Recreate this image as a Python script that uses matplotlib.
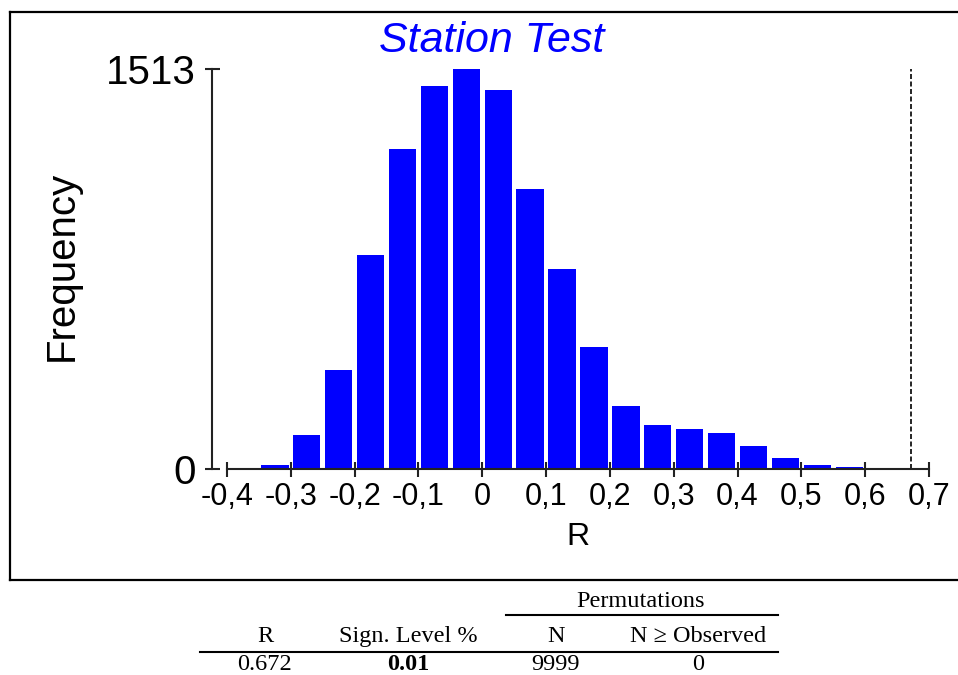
import matplotlib.pyplot as plt
from matplotlib.lines import Line2D
from matplotlib.ticker import FuncFormatter

# histogram of permuted R values (bin centres, width 0.05)
r_bins = [-0.325, -0.275, -0.225, -0.175, -0.125, -0.075, -0.025, 0.025, 0.075,
          0.125, 0.175, 0.225, 0.275, 0.325, 0.375, 0.425, 0.475, 0.525, 0.575]
freq = [16, 127, 373, 810, 1210, 1447, 1513, 1432, 1059,
        756, 461, 239, 168, 151, 135, 88, 42, 16, 9]
r_observed = 0.672
x_ticks = [-0.4, -0.3, -0.2, -0.1, 0, 0.1, 0.2, 0.3, 0.4, 0.5, 0.6, 0.7]
y_ticks = [0, 1513]

# summary table under the plot
tbl_group = "Permutations"
tbl_header = ["R", "Sign. Level %", "N", "N \u2265 Observed"]
tbl_values = ["0.672", "0.01", "9999", "0"]

W, H = 958, 675
fx = lambda px: px / W
fy = lambda py: 1 - py / H

sans = "Liberation Sans"
serif = "Liberation Serif"

fig = plt.figure(figsize=(W / 100, H / 100), dpi=100)
ax = fig.add_axes([fx(227), fy(469), (929 - 227) / W, 400 / H])

ax.bar(r_bins, freq, width=0.043, color="#0000ff", edgecolor="none", zorder=1)
ax.axvline(r_observed, color="black", lw=1.2, linestyle=(0, (3, 1.5)), zorder=2)

ax.set_xlim(-0.4, 0.7)
ax.set_ylim(0, 1513)
for s in ["top", "right"]:
    ax.spines[s].set_visible(False)
ax.spines["left"].set_position(("outward", 10.8))
for s in ["left", "bottom"]:
    ax.spines[s].set_linewidth(1.5)
    ax.spines[s].set_color("#222222")

ax.set_xticks(x_ticks)
ax.xaxis.set_major_formatter(FuncFormatter(lambda v, p: f"{v:g}".replace(".", ",")))
ax.set_yticks(y_ticks)
ax.tick_params(axis="x", direction="inout", length=10.8, width=1.5, pad=4,
               labelsize=22, colors="#222222")
ax.tick_params(axis="y", direction="inout", length=10.8, width=1.5, pad=6.5,
               labelsize=29, colors="#222222")
for lab in ax.get_xticklabels() + ax.get_yticklabels():
    lab.set_fontfamily(sans)
    lab.set_color("black")

fig.text(fx(492), fy(52), "Station Test", color="#0000ff", fontsize=31,
         fontstyle="italic", family=sans, ha="center", va="baseline")
fig.text(fx(62), fy(266), "Frequency", fontsize=29, family=sans, rotation=90,
         ha="center", va="center")
fig.text(fx(578), fy(545), "R", fontsize=23, family=sans, ha="center", va="baseline")

# frame around the plot (right edge falls outside the image)
frame = dict(color="black", lw=1.6, transform=fig.transFigure)
fig.add_artist(Line2D([fx(10), 1.01], [fy(12), fy(12)], **frame))
fig.add_artist(Line2D([fx(10), fx(10)], [fy(12), fy(580)], **frame))
fig.add_artist(Line2D([fx(10), 1.01], [fy(580), fy(580)], **frame))

# table
col_x = [265, 408, 556, 698]
fig.text(fx(641), fy(607), tbl_group, fontsize=17.5, family=serif,
         ha="center", va="baseline")
rule = dict(color="black", lw=1.5, transform=fig.transFigure)
fig.add_artist(Line2D([fx(506), fx(778)], [fy(615), fy(615)], **rule))
fig.add_artist(Line2D([fx(200), fx(778)], [fy(652), fy(652)], **rule))
for x, h in zip(col_x, tbl_header):
    fig.text(fx(x), fy(642), h, fontsize=17.5, family=serif, ha="center", va="baseline")
for i, (x, v) in enumerate(zip(col_x, tbl_values)):
    fig.text(fx(x), fy(670), v, fontsize=17.5, family=serif, ha="center",
             va="baseline", fontweight="bold" if i == 1 else "normal")

fig.savefig("out.png", dpi=100)
